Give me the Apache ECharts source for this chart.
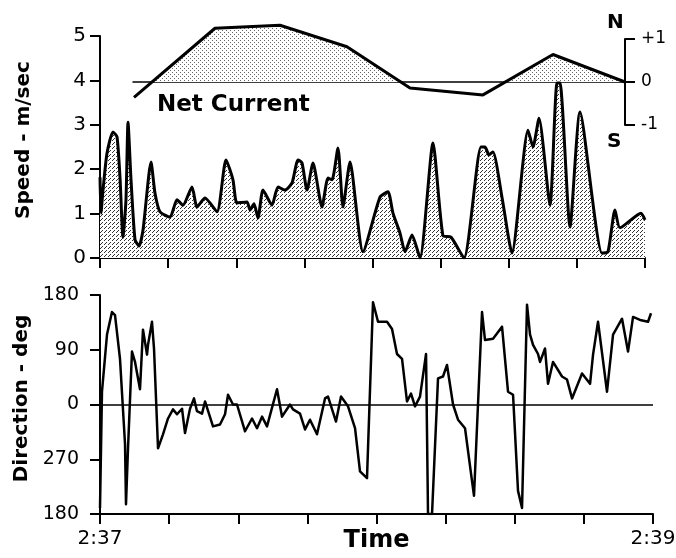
<!DOCTYPE html>
<html>
<head>
<meta charset="utf-8">
<script src="https://cdn.jsdelivr.net/npm/echarts@6/dist/echarts.min.js"></script>
<style>
  html, body { margin: 0; padding: 0; background: #fff; }
  #chart { width: 676px; height: 558px; }
</style>
</head>
<body>
<div id="chart"></div>
<script>
// time in seconds after 2:37
var speedTime = [0, 0.22, 0.66, 1.54, 2.86, 3.74, 4.4, 5.06, 5.72, 6.17, 6.83, 7.71, 8.59, 9.47, 11.23, 12.11, 13.21, 15.41, 16.95, 18.27,
  20.26, 21.36, 23.12, 25.76, 27.74, 29.28, 30.16, 32.37, 33.03, 33.91, 34.79, 35.89, 37.87, 39.19, 40.73, 42.28, 43.6, 44.48, 45.58, 46.9,
  48.88, 50.2, 51.08, 52.4, 53.5, 55.05, 57.91, 61.65, 63.41, 64.51, 66.06, 67.16, 68.7, 70.46, 73.32, 75.52, 77.28, 80.15, 83.89, 84.77,
  85.65, 86.53, 88.51, 90.71, 94.24, 95.34, 96.66, 99.08, 100.62, 101.28, 103.49, 105.69, 110.53, 111.85, 113.39, 114.49, 119.12, 120];
var speed = [1.82, 1.01, 1.53, 2.36, 2.84, 2.73, 1.82, 0.47, 1.31, 3.06, 1.76, 0.41, 0.27, 0.63, 2.16, 1.46, 1.04, 0.92, 1.31, 1.19,
  1.6, 1.15, 1.35, 1.04, 2.21, 1.76, 1.24, 1.26, 1.08, 1.22, 0.9, 1.53, 1.19, 1.6, 1.53, 1.69, 2.21, 2.14, 1.53, 2.14,
  1.15, 1.8, 1.76, 2.48, 1.15, 2.16, 0.14, 1.37, 1.49, 1.01, 0.56, 0.14, 0.52, 0.0, 2.59, 0.5, 0.47, 0.0, 2.5, 2.5,
  2.32, 2.39, 1.37, 0.11, 2.88, 2.5, 3.15, 1.19, 3.94, 3.94, 0.7, 3.29, 0.11, 0.14, 1.08, 0.68, 1.01, 0.86];

var currentTime = [7.49, 25.32, 39.63, 54.38, 68.26, 84.33, 99.74, 115.6];
var current = [-0.36, 1.25, 1.32, 0.82, -0.14, -0.3, 0.64, 0];

var dirTime = [0, 0.43, 1.52, 2.6, 3.26, 4.34, 5.43, 5.64, 6.08, 6.94, 7.6, 8.68, 9.33, 10.2, 10.42, 11.28, 11.72, 12.59, 13.67, 14.76,
  15.84, 16.71, 17.8, 18.45, 19.53, 20.4, 21.05, 22.14, 22.79, 24.52, 26.04, 27.13, 27.78, 28.86, 29.73, 31.47, 32.99, 34.07, 35.16, 36.24,
  38.41, 39.5, 41.23, 41.88, 43.4, 44.49, 45.57, 47.09, 48.83, 49.48, 51.21, 52.3, 53.82, 55.34, 56.42, 57.94, 59.24, 60.33, 62.28, 63.37,
  64.45, 65.54, 66.62, 67.49, 68.36, 69.44, 70.75, 71.18, 72.05, 73.35, 74.43, 75.3, 76.61, 77.69, 79.21, 80.73, 81.16, 82.9, 83.55, 85.29,
  87.24, 88.54, 89.63, 90.71, 91.58, 92.66, 93.32, 93.97, 95.05, 95.49, 96.57, 97.22, 98.3, 100.26, 101.34, 102.43, 104.6, 106.34, 106.99, 108.07,
  110.02, 111.33, 113.28, 114.58, 115.67, 117.19, 118.92, 119.57];
var dirDeg = [-170, 21, 115, 152, 147, 75, -65, -164, -72, 87, 70, 25, 123, 82, 98, 136, 92, -72, -49, -23,
  -8, -16, -7, -47, -7, 10, -11, -15, 5, -36, -33, -16, 16, 0, 0, -44, -23, -39, -20, -36,
  25, -20, 0, -8, -15, -41, -25, -49, 10, 13, -28, 13, -3, -39, -110, -121, 168, 136, 136, 124,
  83, 75, 5, 18, -3, 13, 83, -180, -180, 43, 46, 65, 0, -25, -39, -126, -150, 152, 106, 108,
  128, 21, 16, -142, -170, 164, 115, 98, 83, 70, 92, 34, 70, 46, 41, 10, 51, 34, 82, 136,
  21, 115, 141, 87, 144, 139, 136, 150];

var speedTicks = [0, 1, 2, 3, 4, 5];
var dirTickLabels = { '-180': '180', '-90': '270', '0': '0', '90': '90', '180': '180' };
var timeLabels = { 0: '2:37', 120: '2:39' };
var currentLabels = { '-1': '-1', '0': '0', '1': '+1' };

var font = 'DejaVu Sans';

function stipple(size, dots, color) {
  var c = document.createElement('canvas');
  c.width = size;
  c.height = size;
  var ctx = c.getContext('2d');
  ctx.fillStyle = '#fff';
  ctx.fillRect(0, 0, size, size);
  ctx.fillStyle = color;
  dots.forEach(function (d) { ctx.fillRect(d[0], d[1], 1, 1); });
  return { image: c, repeat: 'repeat' };
}

function zip(a, b) {
  return a.map(function (v, i) { return [v, b[i]]; });
}

var axisBlack = { show: true, onZero: false, lineStyle: { color: '#000', width: 2 } };
var tickBlack = { show: true, length: 10, lineStyle: { color: '#000', width: 2 } };
var hidden = { show: false };

var chart = echarts.init(document.getElementById('chart'));
var option = {
  animation: false,
  backgroundColor: '#fff',
  textStyle: { fontFamily: font, color: '#000' },
  grid: [
    { left: 100, right: 31, top: 36, height: 222, outerBoundsMode: 'none' },
    { left: 100, right: 23, top: 295, height: 219, outerBoundsMode: 'none' },
    { left: 133, right: 51, top: 39, height: 86, outerBoundsMode: 'none' },
    // upper half only, so the net current fill stays above zero
    { left: 133, right: 51, top: 17.5, height: 64.5, outerBoundsMode: 'none' }
  ],
  xAxis: [
    {
      type: 'value', gridIndex: 0, min: 0, max: 120, interval: 15,
      axisLine: axisBlack, axisTick: tickBlack,
      axisLabel: hidden, splitLine: hidden
    },
    {
      type: 'value', gridIndex: 1, min: 0, max: 120, interval: 15,
      axisLine: axisBlack, axisTick: tickBlack,
      axisLabel: {
        color: '#000', fontFamily: font, fontSize: 20, margin: 15,
        showMinLabel: true, showMaxLabel: true,
        formatter: function (v) { return timeLabels[v] || ''; }
      },
      splitLine: hidden,
      name: 'Time', nameLocation: 'middle', nameGap: 15, nameMoveOverlap: false,
      nameTextStyle: { fontFamily: font, fontSize: 24, fontWeight: 'bold', color: '#000', verticalAlign: 'top' }
    },
    {
      type: 'value', gridIndex: 2, min: 7.27, max: 115.6,
      axisLine: { show: true, onZero: true, lineStyle: { color: '#000', width: 1.5 } },
      axisTick: hidden, axisLabel: hidden, splitLine: hidden
    },
    {
      type: 'value', gridIndex: 3, min: 7.27, max: 115.6,
      axisLine: hidden, axisTick: hidden, axisLabel: hidden, splitLine: hidden
    }
  ],
  yAxis: [
    {
      type: 'value', gridIndex: 0, min: speedTicks[0], max: speedTicks[speedTicks.length - 1], interval: 1,
      axisLine: axisBlack, axisTick: tickBlack,
      axisLabel: { color: '#000', fontFamily: font, fontSize: 20, margin: 14 },
      splitLine: hidden,
      name: 'Speed - m/sec', nameLocation: 'middle', nameRotate: 90, nameGap: 66,
      nameTextStyle: { fontFamily: font, fontSize: 20, fontWeight: 'bold', color: '#000', padding: [0, 0, 0, 14] }
    },
    {
      type: 'value', gridIndex: 1, min: -180, max: 180, interval: 90,
      axisLine: axisBlack, axisTick: tickBlack,
      axisLabel: {
        color: '#000', fontFamily: font, fontSize: 19, margin: 21,
        formatter: function (v) { return dirTickLabels[String(v)]; }
      },
      splitLine: hidden,
      name: 'Direction - deg', nameLocation: 'middle', nameRotate: 90, nameGap: 64,
      nameTextStyle: { fontFamily: font, fontSize: 20, fontWeight: 'bold', color: '#000', padding: [0, 0, 0, 12] }
    },
    {
      type: 'value', gridIndex: 2, position: 'right', min: -1, max: 1, interval: 1,
      axisLine: { show: true, lineStyle: { color: '#000', width: 2 } },
      axisTick: { show: true, length: 10, lineStyle: { color: '#000', width: 2 } },
      axisLabel: {
        color: '#000', fontFamily: font, fontSize: 17, margin: 16,
        formatter: function (v) { return currentLabels[String(v)]; }
      },
      splitLine: hidden
    },
    {
      type: 'value', gridIndex: 3, min: 0, max: 1.5,
      axisLine: hidden, axisTick: hidden, axisLabel: hidden, splitLine: hidden
    }
  ],
  graphic: [
    { type: 'text', left: 157, top: 94, style: { text: 'Net Current', fontFamily: font, fontSize: 23, fontWeight: 'bold', fill: '#000' } },
    { type: 'text', left: 607, top: 13, style: { text: 'N', fontFamily: font, fontSize: 20, fontWeight: 'bold', fill: '#000' } },
    { type: 'text', left: 607, top: 132, style: { text: 'S', fontFamily: font, fontSize: 20, fontWeight: 'bold', fill: '#000' } }
  ],
  series: [
    {
      name: 'Speed', type: 'line', xAxisIndex: 0, yAxisIndex: 0,
      data: zip(speedTime, speed),
      symbol: 'none', smooth: 0.2,
      lineStyle: { color: '#000', width: 3 },
      areaStyle: { color: stipple(4, [[0, 0], [2, 2], [1, 3]], '#333'), opacity: 1 }
    },
    {
      name: 'Net Current fill', type: 'line', xAxisIndex: 3, yAxisIndex: 3,
      data: zip(currentTime, current),
      symbol: 'none', clip: true,
      lineStyle: { width: 0 },
      areaStyle: { color: stipple(4, [[0, 0], [2, 2]], '#666'), opacity: 1, origin: 'start' }
    },
    {
      name: 'Net Current', type: 'line', xAxisIndex: 2, yAxisIndex: 2,
      data: zip(currentTime, current),
      symbol: 'none', clip: false,
      lineStyle: { color: '#000', width: 3 }
    },
    {
      name: 'Direction', type: 'line', xAxisIndex: 1, yAxisIndex: 1,
      data: zip(dirTime, dirDeg),
      symbol: 'none',
      lineStyle: { color: '#000', width: 2.5, join: 'round' },
      markLine: {
        silent: true, symbol: 'none', label: { show: false },
        lineStyle: { color: '#000', width: 1.5, type: 'solid' },
        data: [{ yAxis: 0 }]
      }
    }
  ]
};
chart.setOption(option);
</script>
</body>
</html>
